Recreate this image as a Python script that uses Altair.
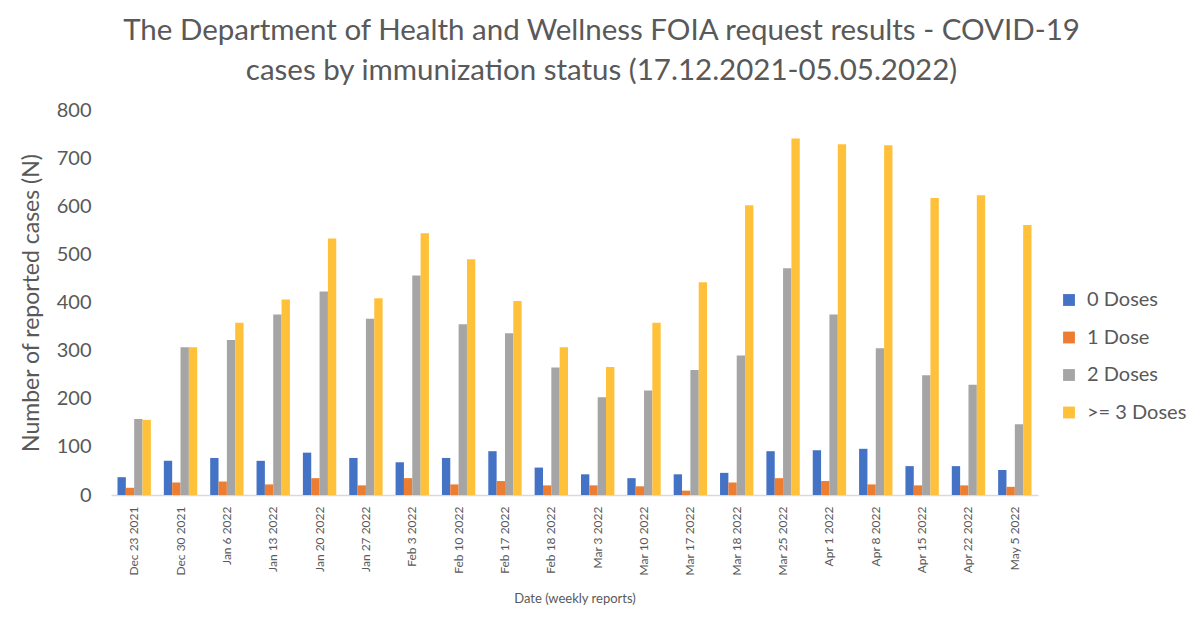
import altair as alt
import pandas as pd

dates = ["Dec 23 2021", "Dec 30 2021", "Jan 6 2022", "Jan 13 2022", "Jan 20 2022",
         "Jan 27 2022", "Feb 3 2022", "Feb 10 2022", "Feb 17 2022", "Feb 18 2022",
         "Mar 3 2022", "Mar 10 2022", "Mar 17 2022", "Mar 18 2022", "Mar 25 2022",
         "Apr 1 2022", "Apr 8 2022", "Apr 15 2022", "Apr 22 2022", "May 5 2022"]
series = ["0 Doses", "1 Dose", "2 Doses", ">= 3 Doses"]
dose0 = [37, 71, 77, 71, 88, 77, 68, 77, 91, 57, 43, 35, 43, 46, 91, 93, 96, 60, 60, 52]
dose1 = [15, 26, 28, 22, 35, 20, 35, 22, 29, 20, 20, 18, 9, 26, 35, 29, 22, 20, 20, 17]
dose2 = [158, 307, 322, 375, 423, 366, 456, 355, 336, 265, 203, 217, 260, 290, 471, 375, 305, 249, 229, 147]
dose3 = [156, 307, 358, 406, 533, 409, 544, 490, 403, 307, 266, 358, 442, 602, 741, 729, 727, 617, 623, 561]
colors = ["#4472C4", "#ED7D31", "#A5A5A5", "#FFC03A"]

rows = []
for vals, s in zip([dose0, dose1, dose2, dose3], series):
    for d, v in zip(dates, vals):
        rows.append({"date": d, "series": s, "value": v})
df = pd.DataFrame(rows)

FONT = "Lato"
TXT = "#595959"

chart = alt.Chart(df).mark_bar().encode(
    x=alt.X("date:N", sort=dates,
            scale=alt.Scale(paddingInner=0.28, paddingOuter=0.14),
            axis=alt.Axis(title="Date (weekly reports)", labelAngle=-90, labelFontSize=12,
                          labelColor=TXT, titleColor=TXT, titleFontSize=13, titleFontWeight="normal",
                          labelPadding=11, ticks=False, domainColor="#D9D9D9", domainWidth=1.5,
                          titlePadding=17, labelFont=FONT, titleFont=FONT)),
    xOffset=alt.XOffset("series:N", sort=series),
    y=alt.Y("value:Q", scale=alt.Scale(domain=[0, 800]),
            axis=alt.Axis(title="Number of reported cases (N)", values=list(range(0, 801, 100)),
                          grid=False, domain=False, ticks=False, labelFontSize=20,
                          titleFontSize=23, titleFontWeight="normal", labelColor=TXT,
                          titleColor=TXT, labelPadding=20, titlePadding=13,
                          labelFont=FONT, titleFont=FONT)),
    color=alt.Color("series:N", sort=series,
                    scale=alt.Scale(domain=series, range=colors),
                    legend=alt.Legend(title=None, orient="none", legendX=948, legendY=180,
                                      symbolType="square", symbolSize=140, symbolStrokeWidth=0,
                                      labelFontSize=20, labelColor=TXT, labelFont=FONT,
                                      rowPadding=17.5, labelOffset=8)),
).properties(
    width=927, height=385,
    title=alt.TitleParams(
        ["The Department of Health and Wellness FOIA request results - COVID-19",
         "cases by immunization status (17.12.2021-05.05.2022)"],
        fontSize=29.5, font=FONT, color=TXT, fontWeight="normal", anchor="middle",
        dx=27, offset=14, lineHeight=40),
    autosize=alt.AutoSizeParams(type="none"),
    padding={"left": 103, "top": 102, "right": 154, "bottom": 120},
).configure_view(stroke=None)

chart.save("out.html", embed_options={"renderer": "svg", "actions": False})
